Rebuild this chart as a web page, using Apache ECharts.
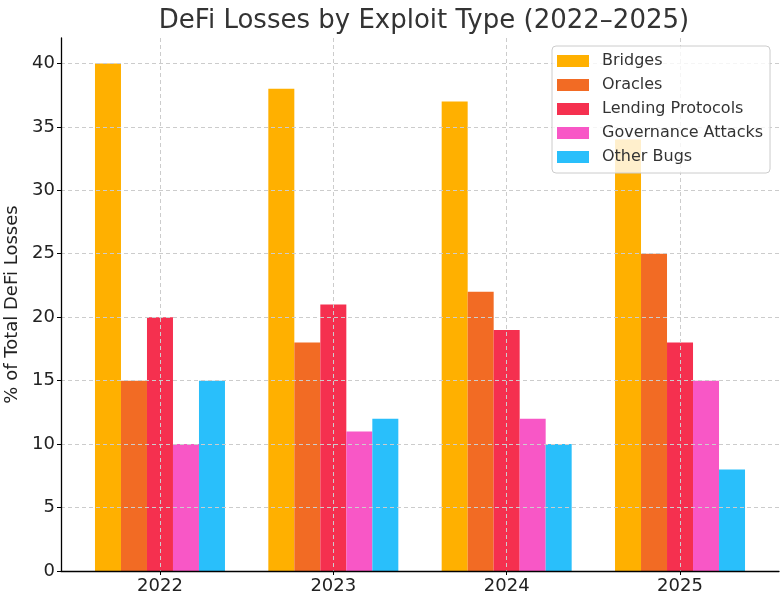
<!DOCTYPE html>
<html><head><meta charset="utf-8">
<script src="https://cdn.jsdelivr.net/npm/echarts@6/dist/echarts.min.js"></script>
<style>html,body{margin:0;padding:0;background:#fff}#c{width:781px;height:599px}</style>
</head><body><div id="c"></div>
<script>
const categories = ['2022', '2023', '2024', '2025'];
const seriesNames = ['Bridges', 'Oracles', 'Lending Protocols', 'Governance Attacks', 'Other Bugs'];
const bridges = [40, 38, 37, 34];
const oracles = [15, 18, 22, 25];
const lending = [20, 21, 19, 18];
const governance = [10, 11, 12, 15];
const otherBugs = [15, 12, 10, 8];
const yTicks = [0, 5, 10, 15, 20, 25, 30, 35, 40];

const colors = ['#FFB000', '#F26B24', '#F5304F', '#F857C6', '#29BFFB'];
const allValues = [bridges, oracles, lending, governance, otherBugs];
const font = 'DejaVu Sans';
const chart = echarts.init(document.getElementById('c'), null, {renderer: 'canvas'});
const idx = categories.map((_, i) => i);
chart.setOption({
  animation: false,
  color: colors,
  title: {
    text: 'DeFi Losses by Exploit Type (2022–2025)',
    left: 419, top: 3, textAlign: 'center',
    textStyle: {fontFamily: font, fontSize: 26, fontWeight: 'normal', color: '#333'}
  },
  legend: {
    orient: 'vertical', left: 552, top: 46,
    padding: [7, 7, 8, 5],
    itemWidth: 32, itemHeight: 12, itemGap: 8,
    backgroundColor: 'rgba(255,255,255,0.8)',
    borderColor: '#cccccc', borderWidth: 1, borderRadius: 4,
    textStyle: {fontFamily: font, fontSize: 16, lineHeight: 16, color: '#333', padding: [0, 0, 0, 8]},
    icon: 'rect',
    data: seriesNames
  },
  grid: {left: 61, right: 2, top: 38, bottom: 28, containLabel: false, outerBoundsMode: 'none'},
  xAxis: {
    type: 'value', min: -0.571, max: 3.571, z: 3,
    axisLine: {show: true, onZero: false, lineStyle: {color: '#000', width: 1.3}},
    axisTick: {show: true, customValues: idx, length: 4, lineStyle: {color: '#000'}},
    axisLabel: {customValues: idx, formatter: v => categories[Math.round(v)],
      fontFamily: font, fontSize: 18, color: '#222', margin: 6},
    splitLine: {show: true, lineStyle: {color: '#cccccc', type: [4, 3], width: 1}}
  },
  yAxis: {
    type: 'value', min: 0, max: 42, interval: 5, z: 3,
    name: '% of Total DeFi Losses', nameLocation: 'middle', nameGap: 33,
    nameTextStyle: {fontFamily: font, fontSize: 18, color: '#222'},
    axisLine: {show: true, onZero: false, lineStyle: {color: '#000', width: 1.3}},
    axisTick: {show: true, customValues: yTicks, length: 4, lineStyle: {color: '#000'}},
    axisLabel: {customValues: yTicks, fontFamily: font, fontSize: 18, color: '#222', margin: 6},
    splitLine: {show: true, lineStyle: {color: '#cccccc', type: [4, 3], width: 1}}
  },
  series: seriesNames.map((name, s) => ({
    name, type: 'bar', barWidth: 26, barGap: '0%',
    itemStyle: {color: colors[s]},
    data: allValues[s].map((v, i) => [i, v])
  }))
});
</script></body></html>
